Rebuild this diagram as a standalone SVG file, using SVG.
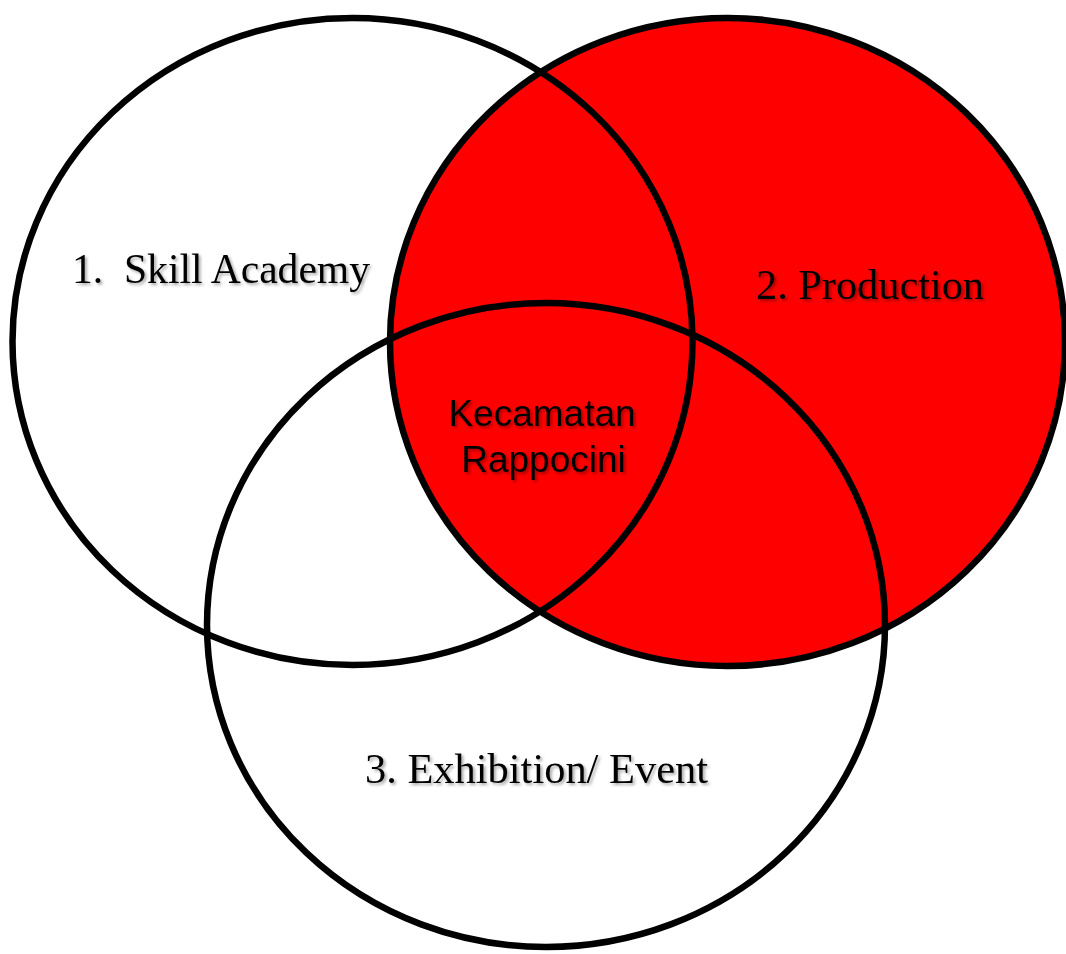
<svg xmlns="http://www.w3.org/2000/svg" xmlns:xlink="http://www.w3.org/1999/xlink" width="1066" height="954" viewBox="0 0 1066 954">
  <defs>
    <style>
      .fillW { fill: #ffffff; stroke: none; }
      .fillR { fill: #ff0000; stroke: none; }
      .ring { fill: none; stroke: #000000; stroke-width: 6.5; }
      .serif { font-family: "Liberation Serif", "Times New Roman", serif; font-size: 42px; fill: #000000; filter: url(#shadow); }
      .sans { font-family: "Liberation Sans", Arial, sans-serif; font-size: 37px; fill: #000000; text-anchor: middle; filter: url(#shadow); }
    </style>
    <filter id="shadow" x="-10%" y="-30%" width="120%" height="160%">
      <feDropShadow dx="2" dy="2" stdDeviation="1.5" flood-color="#000000" flood-opacity="0.35"/>
    </filter>
    <ellipse id="e1" cx="352.5" cy="341.5" rx="340" ry="323.5"/>
    <ellipse id="e2" cx="727.5" cy="342" rx="337.5" ry="324"/>
    <ellipse id="e3" cx="546" cy="625" rx="339" ry="322"/>
  </defs>
  <rect width="1066" height="954" fill="#ffffff"/>
  <g id="node-skill-academy">
    <use xlink:href="#e1" class="fillW"/>
  </g>
  <g id="node-exhibition-event">
    <use xlink:href="#e3" class="fillW"/>
  </g>
  <g id="node-production">
    <use xlink:href="#e2" class="fillR"/>
  </g>
  <g id="outlines">
    <use xlink:href="#e1" class="ring"/>
    <use xlink:href="#e2" class="ring"/>
    <use xlink:href="#e3" class="ring"/>
  </g>
  <g id="labels">
    <text class="serif" x="72" y="283" textLength="298" lengthAdjust="spacingAndGlyphs" xml:space="preserve">1.  Skill Academy</text>
    <text class="serif" x="756" y="299" textLength="228" lengthAdjust="spacingAndGlyphs">2. Production</text>
    <text class="serif" x="365" y="783" textLength="343" lengthAdjust="spacingAndGlyphs">3. Exhibition/ Event</text>
  </g>
  <g id="node-kecamatan-rappocini">
    <text class="sans" x="542" y="426">Kecamatan</text>
    <text class="sans" x="543.5" y="472">Rappocini</text>
  </g>
</svg>
